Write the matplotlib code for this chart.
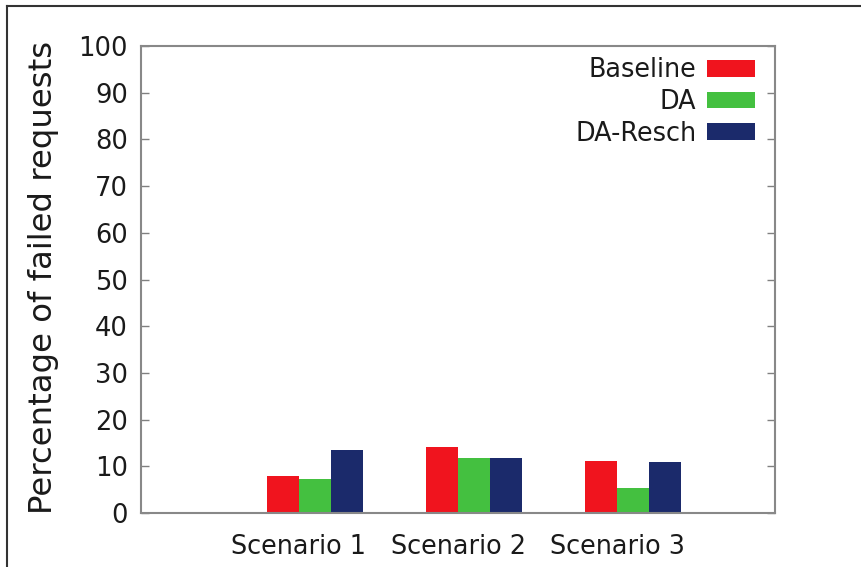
import matplotlib
matplotlib.use("Agg")
import matplotlib.pyplot as plt
import matplotlib.transforms as mtrans
import numpy as np
from matplotlib.lines import Line2D

categories = ["Scenario 1", "Scenario 2", "Scenario 3"]
series_names = ["Baseline", "DA", "DA-Resch"]
baseline = [7.9, 14.1, 11.1]
da = [7.2, 11.8, 5.3]
da_resch = [13.5, 11.8, 11.0]
yticks = [0, 10, 20, 30, 40, 50, 60, 70, 80, 90, 100]

colors = ["#f0141e", "#44c040", "#1b2a6b"]
txt = "#1a1a1a"

fig = plt.figure(figsize=(8.62, 5.67), dpi=100)
ax = fig.add_axes([141/862, 1-513/567, (775-141)/862, (513-46)/567])

x = np.arange(len(categories))
w = 0.2
for i, (name, vals) in enumerate(zip(series_names, [baseline, da, da_resch])):
    ax.bar(x + (i - 1) * w, vals, width=w, color=colors[i], label=name, linewidth=0)

ax.set_xlim(-1.094, 2.893)
ax.set_ylim(0, 100)
ax.set_yticks(yticks)
ax.set_xticks(x)
ax.set_xticklabels(categories, fontsize=18.4, color=txt)
ax.tick_params(axis="x", length=0, pad=15)
offset = mtrans.ScaledTranslation(-16/100, 0, fig.dpi_scale_trans)
for lbl in ax.get_xticklabels():
    lbl.set_transform(lbl.get_transform() + offset)
ax.tick_params(axis="y", direction="in", length=6, width=1, color="#808080",
               left=True, right=True, labelsize=18.5, labelcolor=txt, pad=9.5)
for s in ax.spines.values():
    s.set_color("#888888")
    s.set_linewidth(1.5)

ax.set_ylabel("Percentage of failed requests", fontsize=23.3, color=txt)
ax.yaxis.set_label_coords(-0.129, 0.504)

leg = ax.legend(loc="upper right", frameon=False, markerfirst=False, fontsize=18.4,
                handlelength=1.88, handleheight=0.63, labelspacing=0.22,
                handletextpad=0.4, borderaxespad=0.3, bbox_to_anchor=(0.996, 1.014))
for t in leg.get_texts():
    t.set_color(txt)

# outer frame (top and left edges)
fig.add_artist(Line2D([7/862, 7/862], [0, 1-6/567], color="#333333", linewidth=1.5, transform=fig.transFigure))
fig.add_artist(Line2D([7/862, 1], [1-6/567, 1-6/567], color="#333333", linewidth=1.5, transform=fig.transFigure))

fig.savefig("out.png", dpi=100)
